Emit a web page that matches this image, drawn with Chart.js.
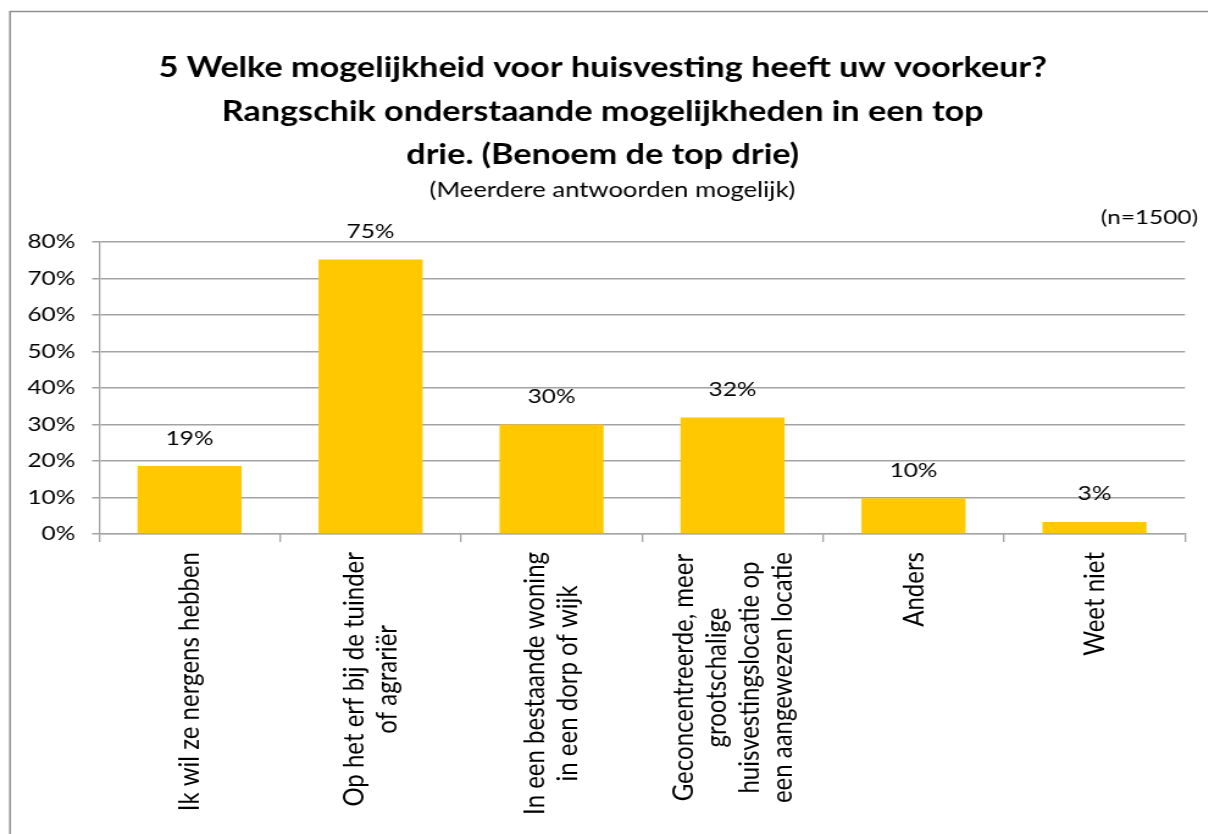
<!DOCTYPE html>
<html>
<head>
<meta charset="utf-8">
<script src="https://cdn.jsdelivr.net/npm/chart.js@4.4.1/dist/chart.umd.min.js"></script>
<style>
  html, body { margin: 0; padding: 0; background: #fff; }
  #wrap { width: 1208px; height: 834px; position: relative; overflow: hidden; }
  /* the original picture is a horizontally stretched chart, so draw narrow and stretch */
  #chart { position: absolute; left: 0; top: 0; transform-origin: 0 0; transform: scaleX(1.22); }
</style>
</head>
<body>
<div id="wrap"><canvas id="chart" width="990" height="834"></canvas></div>
<script>
//#region data
const titleLines = [
	'5 Welke mogelijkheid voor huisvesting heeft uw voorkeur?',
	'Rangschik onderstaande mogelijkheden in een top',
	'drie. (Benoem de top drie)'
];
const subtitle = '(Meerdere antwoorden mogelijk)';
const sampleNote = '(n=1500)';

const categories = [
	['Ik wil ze nergens hebben'],
	['Op het erf bij de tuinder', 'of agrariër'],
	['In een bestaande woning', 'in een dorp of wijk'],
	['Geconcentreerde, meer', 'grootschalige', 'huisvestingslocatie op', 'een aangewezen locatie'],
	['Anders'],
	['Weet niet']
];
const values = [18.6, 75.2, 30.0, 31.9, 9.8, 3.3]; // percent
const yMin = 0;
const yMax = 80;
const yStep = 10;
//#endregion

const fontFamily = 'Lato, "Open Sans", sans-serif';
const gridColor = '#a3a3a3';
const barColor = '#ffc800';

//frame + titles drawn around the plot (canvas units, before the 1.22 stretch)
const decorPlugin = {
	id: 'decor',
	beforeDraw(chart) {
		const ctx = chart.ctx;
		ctx.save();
		ctx.strokeStyle = '#8f8f8f';
		ctx.lineWidth = 1.5;
		ctx.strokeRect(8.2, 11.5, 1400, 1000);
		ctx.fillStyle = '#000';
		ctx.textAlign = 'center';
		ctx.textBaseline = 'middle';
		ctx.font = 'bold 28px ' + fontFamily;
		titleLines.forEach((line, i) => {
			ctx.fillText(line, 494, 68 + i * 43.5);
		});
		ctx.font = '21px ' + fontFamily;
		ctx.fillText(subtitle, 502, 190);
		ctx.font = '20px ' + fontFamily;
		ctx.textAlign = 'right';
		ctx.fillText(sampleNote, 982, 218);
		ctx.restore();
	},
	afterDatasetsDraw(chart) {
		const ctx = chart.ctx;
		const meta = chart.getDatasetMeta(0);
		ctx.save();
		ctx.fillStyle = '#000';
		ctx.textAlign = 'center';
		ctx.textBaseline = 'middle';
		ctx.font = '20px ' + fontFamily;
		meta.data.forEach((bar, i) => {
			ctx.fillText(Math.round(values[i]) + '%', bar.x, bar.y - 28);
		});
		ctx.restore();
	},
	afterDraw(chart) {
		//rotated category labels, lines centred on each other
		const ctx = chart.ctx;
		const xScale = chart.scales.x;
		const top = xScale.top + 18;
		const lineH = 27;
		ctx.save();
		ctx.fillStyle = '#000';
		ctx.font = '24px ' + fontFamily;
		ctx.textAlign = 'center';
		ctx.textBaseline = 'middle';
		categories.forEach((lines, i) => {
			const x = xScale.getPixelForValue(i);
			const maxW = Math.max(...lines.map(l => ctx.measureText(l).width));
			ctx.save();
			ctx.translate(x, top);
			ctx.rotate(-Math.PI / 2);
			lines.forEach((line, j) => {
				ctx.fillText(line, -maxW / 2, (j - (lines.length - 1) / 2) * lineH);
			});
			ctx.restore();
		});
		ctx.restore();
	}
};

const chart = new Chart(document.getElementById('chart'), {
	type: 'bar',
	data: {
		labels: categories,
		datasets: [{
			data: values,
			backgroundColor: barColor,
			borderWidth: 0,
			barPercentage: 1,
			categoryPercentage: 0.575
		}]
	},
	options: {
		responsive: false,
		animation: false,
		events: [],
		layout: { padding: { top: 242, right: 18.7, left: 0, bottom: 0 } },
		plugins: {
			legend: { display: false },
			tooltip: { enabled: false },
			title: { display: false }
		},
		scales: {
			x: {
				offset: true,
				grid: { display: true, offset: true, drawOnChartArea: false, drawTicks: true, tickLength: 8, color: gridColor, lineWidth: 1.3 },
				border: { color: gridColor, width: 1.3 },
				ticks: { display: false },
				afterFit: (s) => { s.height = 300; }
			},
			y: {
				min: yMin,
				max: yMax,
				ticks: {
					stepSize: yStep,
					callback: (v) => v + '%',
					color: '#000',
					padding: 13.8,
					font: { family: fontFamily, size: 20 }
				},
				grid: { color: gridColor, lineWidth: 1.5, tickLength: 5.7 },
				border: { color: gridColor, width: 1.3 },
				afterFit: (s) => { s.width = 81.2; }
			}
		}
	},
	plugins: [decorPlugin]
});
</script>
</body>
</html>
